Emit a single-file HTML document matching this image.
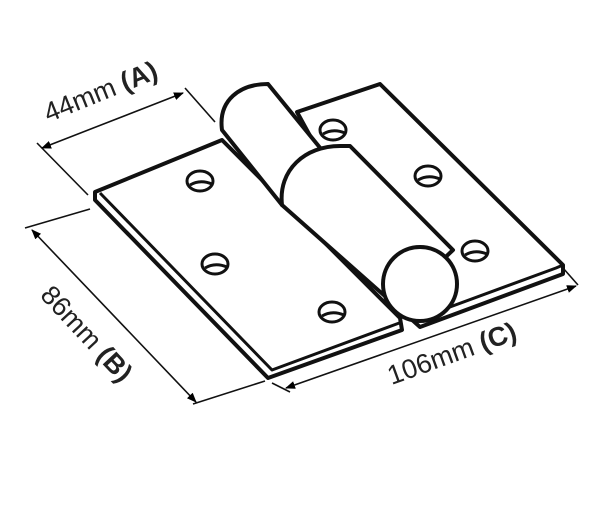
<!DOCTYPE html>
<html><head><style>body{margin:0;background:#fff}</style></head><body>
<svg width="600" height="500" viewBox="0 0 600 500" xmlns="http://www.w3.org/2000/svg">
<defs><marker id="ar" markerWidth="10" markerHeight="8" refX="9" refY="4" orient="auto-start-reverse" markerUnits="userSpaceOnUse"><path d="M0,0 L10,4 L0,8 z" fill="#000"/></marker></defs>
<g fill="#fff" stroke="#111" stroke-width="4" stroke-linejoin="round">
<polygon points="297,112 380,84 563,265 563,274 420,327 410,318"/>
<polyline fill="none" points="420,318 556,268 563,265" stroke-width="3"/>
<polygon points="95,192 222,140 400,318 402,330 268,378 95,200"/>
<polyline fill="none" points="100,193 272,370 402,322" stroke-width="3"/>
<g stroke-width="3">
<ellipse cx="200" cy="181" rx="13" ry="10"/><ellipse cx="215" cy="264" rx="13" ry="10"/>
<ellipse cx="332" cy="312" rx="13" ry="10"/><ellipse cx="333" cy="130" rx="13" ry="10"/>
<ellipse cx="428" cy="176" rx="13" ry="10"/><ellipse cx="383" cy="211" rx="12" ry="9"/>
<ellipse cx="475" cy="251" rx="13" ry="10"/>
</g>
<g fill="none" stroke-width="3">
<path d="M190,185 q10,-6 22,-1"/><path d="M205,268 q10,-6 22,-1"/><path d="M322,316 q10,-6 22,-1"/>
<path d="M323,134 q10,-6 22,-1"/><path d="M418,180 q10,-6 22,-1"/><path d="M373,214 q10,-6 21,-1"/><path d="M465,255 q10,-6 22,-1"/>
</g>
<path d="M222,130 C218,100 240,84 268,84 L330,160 L282,205 Z"/>
<path d="M282,205 C278,170 305,146 340,146 L350,146 L453,250 L395,305 Z"/>
<ellipse cx="420" cy="284" rx="37" ry="37"/>
</g>
<g stroke="#111" stroke-width="1.6" fill="none">
<line x1="37" y1="143" x2="88" y2="195"/><line x1="185" y1="88" x2="215" y2="122"/>
<line x1="42" y1="148" x2="183" y2="93" marker-start="url(#ar)" marker-end="url(#ar)"/>
<line x1="25" y1="228" x2="90" y2="209"/><line x1="193" y1="404" x2="265" y2="381"/>
<line x1="32" y1="230" x2="196" y2="402" marker-start="url(#ar)" marker-end="url(#ar)"/>
<line x1="563" y1="268" x2="578" y2="285"/><line x1="272" y1="383" x2="290" y2="392"/>
<line x1="286" y1="388" x2="576" y2="286" marker-start="url(#ar)" marker-end="url(#ar)"/>
</g>
<g font-family="Liberation Sans, sans-serif" font-size="27" fill="#222">
<text transform="translate(104,100) rotate(-22)" text-anchor="middle">44mm <tspan font-weight="bold">(A)</tspan></text>
<text transform="translate(80,340) rotate(47)" text-anchor="middle">86mm <tspan font-weight="bold">(B)</tspan></text>
<text transform="translate(455,362) rotate(-20)" text-anchor="middle">106mm <tspan font-weight="bold">(C)</tspan></text>
</g>
</svg>
</body></html>
